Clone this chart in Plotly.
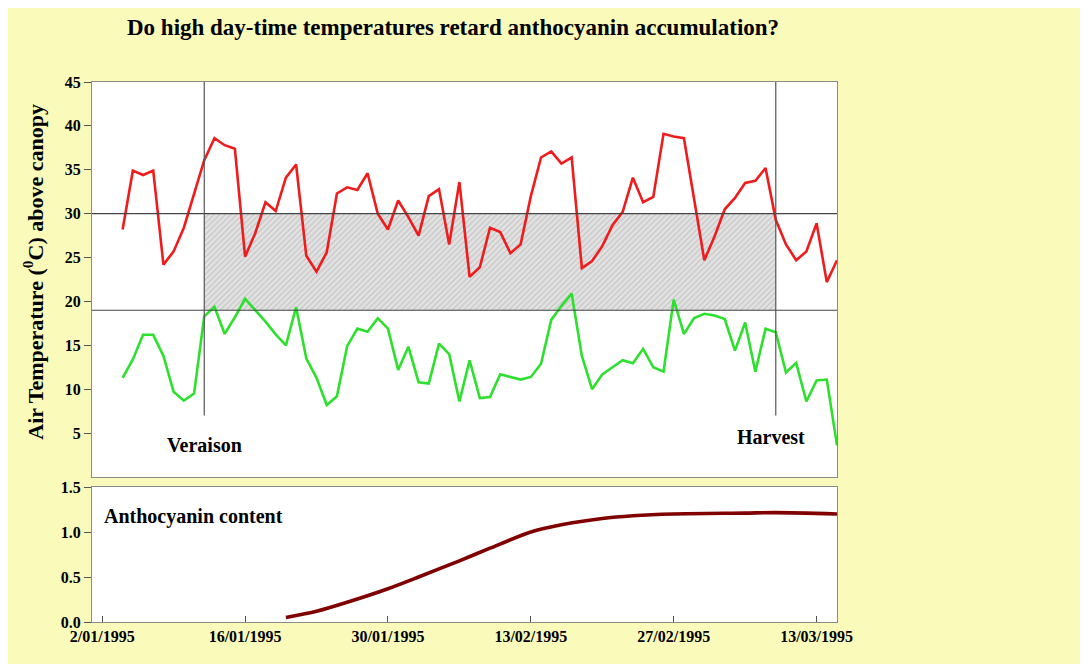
import pandas as pd
import plotly.graph_objects as go
from plotly.subplots import make_subplots

# ---------------- data ----------------
temp_dates = pd.date_range("1995-01-04", "1995-03-15", freq="D")
tmax = [28.2, 34.9, 34.4, 34.9, 24.2, 25.7, 28.4, 32.2, 36.1, 38.6, 37.8, 37.4, 25.1, 27.8,
        31.3, 30.3, 34.1, 35.6, 25.2, 23.4, 25.6, 32.3, 33.0, 32.7, 34.6, 30.0, 28.2, 31.5,
        29.6, 27.5, 32.0, 32.8, 26.5, 33.6, 22.8, 23.9, 28.4, 27.9, 25.5, 26.5, 32.0, 36.4,
        37.1, 35.7, 36.4, 23.8, 24.6, 26.3, 28.7, 30.2, 34.1, 31.3, 31.9, 39.1, 38.8, 38.6,
        31.6, 24.7, 27.4, 30.5, 31.8, 33.5, 33.75, 35.2, 29.3, 26.5, 24.7, 25.7, 28.9, 22.2, 24.7]
tmin = [11.3, 13.4, 16.2, 16.2, 13.8, 9.7, 8.7, 9.5, 18.3, 19.4, 16.3, 18.2, 20.3, 19.0,
        17.7, 16.25, 15.0, 19.35, 13.5, 11.3, 8.2, 9.2, 14.9, 16.9, 16.55, 18.1, 16.9, 12.2,
        14.85, 10.8, 10.65, 15.2, 14.0, 8.6, 13.3, 9.0, 9.1, 11.7, 11.4, 11.1, 11.4, 12.9,
        17.9, 19.5, 20.9, 13.8, 10.0, 11.7, 12.5, 13.3, 12.95, 14.6, 12.5, 12.0, 20.2, 16.3,
        18.1, 18.6, 18.4, 18.0, 14.4, 17.6, 12.0, 16.9, 16.5, 11.9, 13.0, 8.6, 11.0, 11.1, 3.6]

antho_dates = ["1995-01-20", "1995-01-23", "1995-01-26", "1995-01-30", "1995-02-02",
               "1995-02-06", "1995-02-09", "1995-02-13", "1995-02-16", "1995-02-20",
               "1995-02-23", "1995-02-27", "1995-03-06", "1995-03-09", "1995-03-15"]
antho = [0.05, 0.12, 0.22, 0.37, 0.50, 0.68, 0.82, 1.0, 1.08, 1.15, 1.18, 1.2, 1.21, 1.215, 1.2]

veraison_date = "1995-01-12"
harvest_date = "1995-03-09"
band_low, band_high = 19, 30
event_line_bottom = 7

x_tick_dates = ["1995-01-02", "1995-01-16", "1995-01-30", "1995-02-13", "1995-02-27", "1995-03-13"]
x_tick_labels = ["2/01/1995", "16/01/1995", "30/01/1995", "13/02/1995", "27/02/1995", "13/03/1995"]
temp_ticks = [5, 10, 15, 20, 25, 30, 35, 40, 45]
antho_ticks = [0.0, 0.5, 1.0, 1.5]
antho_tick_labels = ["0.0", "0.5", "1.0", "1.5"]

x_range = ["1995-01-01", "1995-03-15"]

# ---------------- figure ----------------
FONT = "Liberation Serif"
BG = "#FAFBBB"
BORDER = "#8a8a8a"

fig = make_subplots(rows=2, cols=1, row_heights=[0.73, 0.27], vertical_spacing=0.0)

# hatched band between veraison and harvest
fig.add_trace(go.Scatter(
    x=[veraison_date, harvest_date, harvest_date, veraison_date, veraison_date],
    y=[band_low, band_low, band_high, band_high, band_low],
    fill="toself", mode="lines", line=dict(color="rgba(0,0,0,0)", width=0),
    fillcolor="#d6d6d6",
    fillpattern=dict(shape="/", fgcolor="#a8a8a8", bgcolor="#e2e2e2", size=4, solidity=0.3),
    hoverinfo="skip", showlegend=False), row=1, col=1)

fig.add_trace(go.Scatter(x=temp_dates, y=tmax, mode="lines",
                         line=dict(color="#ee1c1c", width=2.6), showlegend=False), row=1, col=1)
fig.add_trace(go.Scatter(x=temp_dates, y=tmin, mode="lines",
                         line=dict(color="#2ee02e", width=2.6), showlegend=False), row=1, col=1)

fig.add_trace(go.Scatter(x=antho_dates, y=antho, mode="lines",
                         line=dict(color="#800000", width=3.6, shape="spline", smoothing=0.8),
                         showlegend=False), row=2, col=1)

# reference lines
for yv in (band_low, band_high):
    fig.add_shape(type="line", xref="x domain", yref="y", x0=0, x1=1, y0=yv, y1=yv,
                  line=dict(color="#444444", width=1.2))
for xv in (veraison_date, harvest_date):
    fig.add_shape(type="line", xref="x", yref="y", x0=xv, x1=xv, y0=event_line_bottom, y1=45,
                  line=dict(color="#555555", width=1.2))

axis_font = dict(family=FONT, size=16, color="black", weight="bold")

fig.update_xaxes(range=x_range, showgrid=False, zeroline=False, showline=True, mirror=True,
                 linecolor=BORDER, linewidth=1.2)
fig.update_xaxes(showticklabels=False, ticks="", row=1, col=1)
fig.update_xaxes(tickmode="array", tickvals=x_tick_dates, ticktext=x_tick_labels,
                 ticks="inside", ticklen=6, tickcolor="#555", tickfont=axis_font, row=2, col=1)

fig.update_yaxes(showgrid=False, zeroline=False, showline=True, mirror=True,
                 linecolor=BORDER, linewidth=1.2, ticks="outside", ticklen=7, tickcolor="#555",
                 tickfont=axis_font)
fig.update_yaxes(range=[0, 45], tickmode="array", tickvals=temp_ticks, row=1, col=1)
fig.update_yaxes(range=[0, 1.5], tickmode="array", tickvals=antho_ticks,
                 ticktext=antho_tick_labels, row=2, col=1)

fig.update_layout(
    width=1088, height=664,
    margin=dict(l=84, r=259, t=74, b=50),
    paper_bgcolor=BG, plot_bgcolor="white",
    font=dict(family=FONT, color="black"),
    yaxis=dict(domain=[0.2685, 1.0]),
    yaxis2=dict(domain=[0.0, 0.25]),
    annotations=[
        dict(text="<b>Do high day-time temperatures retard anthocyanin accumulation?</b>",
             xref="paper", yref="paper", x=0.4852, y=1.1, xanchor="center", yanchor="middle",
             showarrow=False, font=dict(family=FONT, size=23, color="black")),
        dict(text="<b>Air Temperature (<sup>0</sup>C) above canopy</b>",
             xref="paper", yref="paper", x=-0.0792, y=0.6487, xanchor="center", yanchor="middle",
             textangle=-90, showarrow=False, font=dict(family=FONT, size=22, color="black")),
        dict(text="<b>Veraison</b>", xref="x", yref="y", x=veraison_date, y=3.6,
             xanchor="center", yanchor="middle", showarrow=False,
             font=dict(family=FONT, size=20, color="black")),
        dict(text="<b>Harvest</b>", xref="x", yref="y", x="1995-03-08 12:00", y=4.6,
             xanchor="center", yanchor="middle", showarrow=False,
             font=dict(family=FONT, size=20, color="black")),
        dict(text="<b>Anthocyanin content</b>", xref="x2", yref="y2", x="1995-01-01 23:00", y=1.17,
             xanchor="left", yanchor="middle", showarrow=False,
             font=dict(family=FONT, size=20, color="black")),
    ],
)

fig.write_html("out.html")
